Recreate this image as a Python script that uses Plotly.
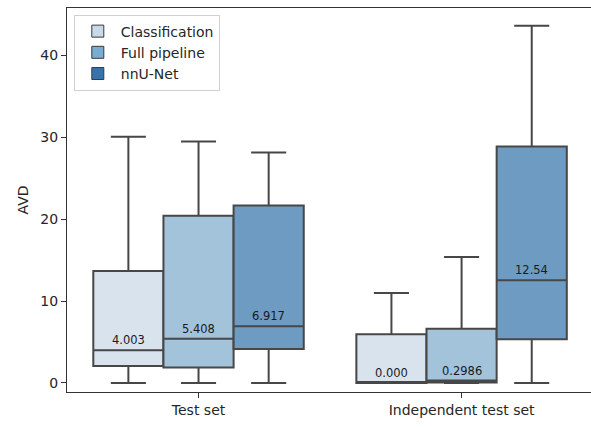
import plotly.graph_objects as go

# Box statistics of AVD per method and test set
test_sets = ["Test set", "Independent test set"]
methods = ["Classification", "Full pipeline", "nnU-Net"]

lower = {"Classification": [0.0, 0.0], "Full pipeline": [0.0, 0.0], "nnU-Net": [0.0, 0.0]}
q1 = {"Classification": [2.07, 0.0], "Full pipeline": [1.88, 0.05], "nnU-Net": [4.15, 5.33]}
median = {"Classification": [4.003, 0.000], "Full pipeline": [5.408, 0.2986], "nnU-Net": [6.917, 12.54]}
q3 = {"Classification": [13.66, 5.94], "Full pipeline": [20.4, 6.63], "nnU-Net": [21.65, 28.87]}
upper = {"Classification": [30.05, 10.98], "Full pipeline": [29.48, 15.37], "nnU-Net": [28.13, 43.58]}

median_text = {"Classification": ["4.003", "0.000"], "Full pipeline": ["5.408", "0.2986"],
               "nnU-Net": ["6.917", "12.54"]}

box_fill = {"Classification": "#d9e3ee", "Full pipeline": "#a2c3da", "nnU-Net": "#6e9bc1"}
legend_fill = {"Classification": "#c8d9ea", "Full pipeline": "#78acd2", "nnU-Net": "#3473ae"}
edge = "#474747"

fig = go.Figure()

for m in methods:
    fig.add_trace(go.Box(
        x=test_sets, q1=q1[m], median=median[m], q3=q3[m],
        lowerfence=lower[m], upperfence=upper[m],
        name=m, offsetgroup=m, showlegend=False,
        fillcolor=box_fill[m], line=dict(color=edge, width=2),
        whiskerwidth=0.5, boxpoints=False, hoverinfo="skip",
    ))

# Legend swatches
for m in methods:
    fig.add_trace(go.Bar(
        x=[None], y=[None], name=m,
        marker=dict(color=legend_fill[m], line=dict(color="#3a3a3a", width=1)),
    ))

boxgap = 0.2
n = len(methods)
w = (1 - boxgap) / n
for i, m in enumerate(methods):
    off = (i - (n - 1) / 2) * w
    for j, _ in enumerate(test_sets):
        fig.add_annotation(
            x=j + off, y=median[m][j], text=median_text[m][j],
            showarrow=False, yanchor="bottom", yshift=1,
            font=dict(size=11.5, color="#1a1a1a"),
        )

fig.update_layout(
    width=591, height=427,
    margin=dict(l=67, r=0, t=8, b=35),
    paper_bgcolor="white", plot_bgcolor="white",
    boxmode="group", boxgap=boxgap, boxgroupgap=0,
    font=dict(family="DejaVu Sans", size=14, color="#262626"),
    legend=dict(
        x=0.013, y=0.983, xanchor="left", yanchor="top",
        bordercolor="#d0d0d0", borderwidth=1, bgcolor="white",
        font=dict(size=14), tracegroupgap=0, itemwidth=36,
    ),
    xaxis=dict(
        type="category", range=[-0.5, 1.492],
        showline=True, linecolor="#333333", linewidth=1.2, mirror=True,
        ticks="outside", ticklen=5, tickcolor="#333333",
        showgrid=False, zeroline=False,
    ),
    yaxis=dict(
        title=dict(text="AVD", standoff=8, font=dict(size=14)),
        range=[-1.1, 45.76], tickvals=[0, 10, 20, 30, 40],
        showline=True, linecolor="#333333", linewidth=1.2,
        ticks="outside", ticklen=5, tickcolor="#333333",
        showgrid=False, zeroline=False,
    ),
)

fig.write_html("out.html")
